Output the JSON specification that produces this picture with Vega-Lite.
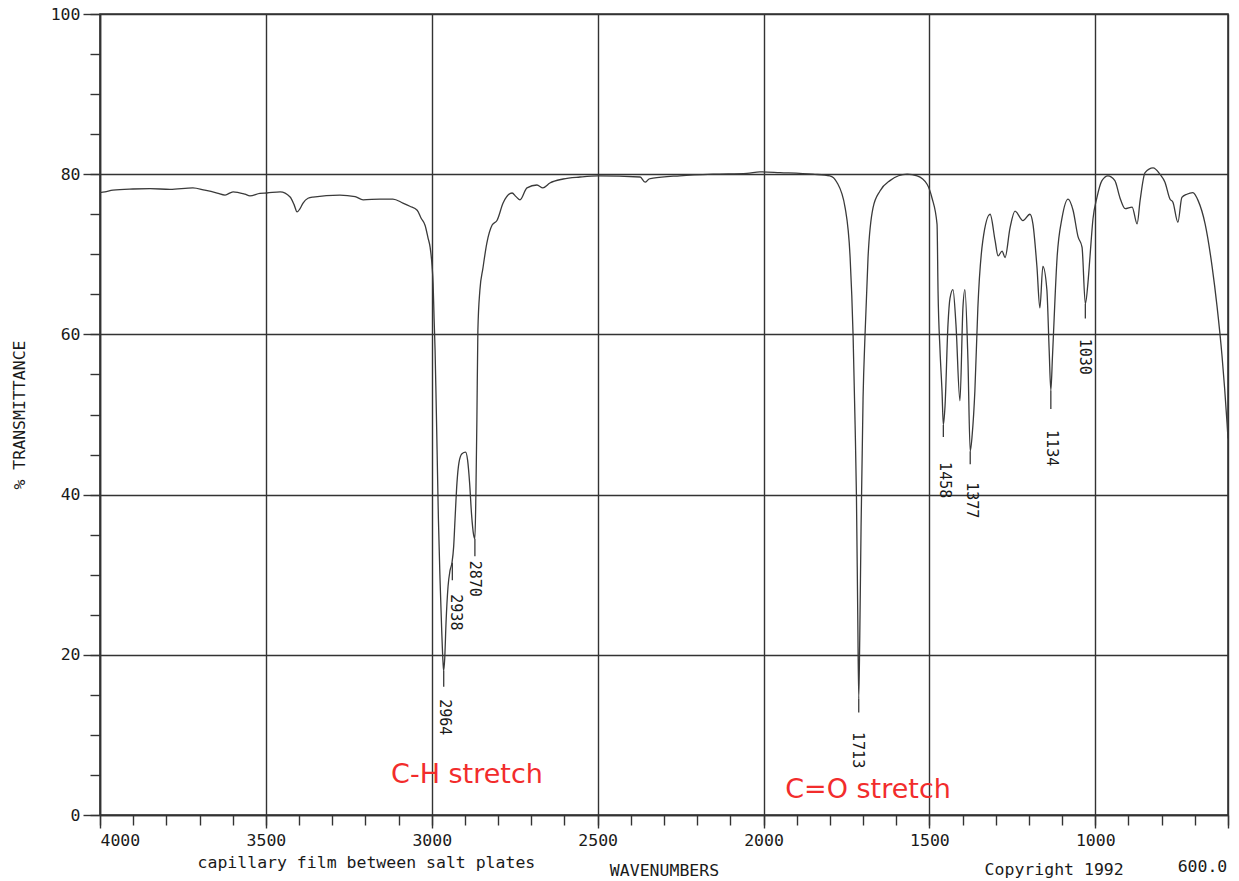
{
  "$schema": "https://vega.github.io/schema/vega-lite/v6.json",
  "width": 1128,
  "height": 801,
  "autosize": {"type": "none"},
  "padding": {"left": 100, "top": 14, "right": 11, "bottom": 66},
  "background": "white",
  "config": {
    "view": {"stroke": "#333", "strokeWidth": 1.6},
    "axis": {
      "labelFont": "DejaVu Sans Mono",
      "labelFontSize": 16.5,
      "labelColor": "#1a1a1a",
      "titleFont": "DejaVu Sans Mono",
      "titleFontSize": 16.5,
      "titleFontWeight": "normal",
      "titleColor": "#1a1a1a",
      "tickColor": "#333",
      "tickWidth": 1.4,
      "domainColor": "#333",
      "domainWidth": 1.6,
      "gridColor": "#333",
      "gridWidth": 1.4,
      "gridOpacity": 1
    }
  },
  "datasets": {
    "spectrum": [
      {"wn":4000,"t":77.7},{"wn":3985,"t":77.8},{"wn":3961,"t":78.0},{"wn":3901,"t":78.15},{"wn":3849,"t":78.2},{"wn":3789,"t":78.1},{"wn":3720,"t":78.3},{"wn":3684,"t":78.0},{"wn":3647,"t":77.65},{"wn":3623,"t":77.4},{"wn":3599,"t":77.8},{"wn":3563,"t":77.5},{"wn":3548,"t":77.3},{"wn":3518,"t":77.6},{"wn":3497,"t":77.65},{"wn":3457,"t":77.8},{"wn":3427,"t":77.15},{"wn":3415,"t":76.2},{"wn":3406,"t":75.3},{"wn":3397,"t":75.7},{"wn":3388,"t":76.4},{"wn":3373,"t":77.0},{"wn":3358,"t":77.15},{"wn":3277,"t":77.4},{"wn":3231,"t":77.2},{"wn":3207,"t":76.8},{"wn":3156,"t":76.9},{"wn":3117,"t":76.9},{"wn":3087,"t":76.4},{"wn":3066,"t":76.0},{"wn":3044,"t":75.5},{"wn":3032,"t":74.5},{"wn":3020,"t":73.6},{"wn":3011,"t":72.0},{"wn":3005,"t":70.9},{"wn":2999,"t":68.5},{"wn":2996,"t":66.4},{"wn":2993,"t":62},{"wn":2990,"t":58},{"wn":2987,"t":52},{"wn":2984,"t":45.6},{"wn":2980,"t":37},{"wn":2975,"t":29.3},{"wn":2970,"t":23},{"wn":2966,"t":19},{"wn":2964,"t":18},{"wn":2961,"t":19.5},{"wn":2957,"t":24},{"wn":2951,"t":28.5},{"wn":2945,"t":30.5},{"wn":2939,"t":31.5},{"wn":2934,"t":33.5},{"wn":2930,"t":36.8},{"wn":2924,"t":41.5},{"wn":2918,"t":44},{"wn":2909,"t":45.1},{"wn":2898,"t":45.3},{"wn":2892,"t":44.3},{"wn":2886,"t":41.5},{"wn":2880,"t":37.5},{"wn":2874,"t":35},{"wn":2870,"t":34.5},{"wn":2867,"t":40},{"wn":2864,"t":49.3},{"wn":2861,"t":60.5},{"wn":2855,"t":65.5},{"wn":2846,"t":68.2},{"wn":2834,"t":71.4},{"wn":2818,"t":73.65},{"wn":2803,"t":74.25},{"wn":2785,"t":76.4},{"wn":2758,"t":77.65},{"wn":2746,"t":77.2},{"wn":2734,"t":76.8},{"wn":2713,"t":78.3},{"wn":2683,"t":78.65},{"wn":2665,"t":78.3},{"wn":2644,"t":78.9},{"wn":2604,"t":79.4},{"wn":2553,"t":79.65},{"wn":2499,"t":79.8},{"wn":2372,"t":79.65},{"wn":2357,"t":79.0},{"wn":2345,"t":79.4},{"wn":2333,"t":79.5},{"wn":2252,"t":79.8},{"wn":2152,"t":80.0},{"wn":2050,"t":80.1},{"wn":2011,"t":80.3},{"wn":1950,"t":80.2},{"wn":1851,"t":80.0},{"wn":1800,"t":79.8},{"wn":1779,"t":79},{"wn":1754,"t":75.8},{"wn":1739,"t":69.6},{"wn":1730,"t":59.8},{"wn":1724,"t":48.75},{"wn":1720,"t":40},{"wn":1716,"t":25},{"wn":1713,"t":14.5},{"wn":1710,"t":22},{"wn":1706,"t":36},{"wn":1700,"t":52},{"wn":1694,"t":60},{"wn":1685,"t":69.6},{"wn":1670,"t":75.8},{"wn":1649,"t":77.9},{"wn":1619,"t":79.2},{"wn":1567,"t":80.0},{"wn":1537,"t":79.8},{"wn":1507,"t":78.75},{"wn":1492,"t":77},{"wn":1477,"t":73.75},{"wn":1474,"t":65.4},{"wn":1468,"t":58},{"wn":1462,"t":52.9},{"wn":1458,"t":48.7},{"wn":1453,"t":51},{"wn":1444,"t":61.25},{"wn":1438,"t":64.5},{"wn":1429,"t":65.6},{"wn":1420,"t":61.25},{"wn":1408,"t":51.7},{"wn":1399,"t":63.3},{"wn":1393,"t":65.6},{"wn":1384,"t":57},{"wn":1377,"t":45.4},{"wn":1371,"t":47.5},{"wn":1363,"t":52.9},{"wn":1354,"t":63.3},{"wn":1339,"t":71.7},{"wn":1317,"t":75},{"wn":1302,"t":71.7},{"wn":1293,"t":69.8},{"wn":1281,"t":70.4},{"wn":1272,"t":69.6},{"wn":1257,"t":73.3},{"wn":1242,"t":75.4},{"wn":1218,"t":74.2},{"wn":1197,"t":75},{"wn":1188,"t":73.8},{"wn":1176,"t":68.5},{"wn":1167,"t":63.3},{"wn":1158,"t":68.5},{"wn":1146,"t":65.6},{"wn":1139,"t":58},{"wn":1134,"t":53},{"wn":1129,"t":57.3},{"wn":1115,"t":69.7},{"wn":1100,"t":74.6},{"wn":1082,"t":76.9},{"wn":1067,"t":75.5},{"wn":1052,"t":72.2},{"wn":1040,"t":70.9},{"wn":1030,"t":63.8},{"wn":1022,"t":66.5},{"wn":1016,"t":69.7},{"wn":1007,"t":74.4},{"wn":995,"t":77.1},{"wn":980,"t":79.2},{"wn":962,"t":79.8},{"wn":941,"t":79.2},{"wn":926,"t":77.1},{"wn":910,"t":75.7},{"wn":889,"t":75.9},{"wn":874,"t":73.8},{"wn":865,"t":76.7},{"wn":850,"t":80.2},{"wn":826,"t":80.8},{"wn":805,"t":80},{"wn":790,"t":79},{"wn":775,"t":76.9},{"wn":766,"t":76.5},{"wn":751,"t":74},{"wn":739,"t":77.1},{"wn":724,"t":77.5},{"wn":706,"t":77.7},{"wn":690,"t":76.7},{"wn":669,"t":73.8},{"wn":648,"t":68.5},{"wn":633,"t":63.5},{"wn":618,"t":57.3},{"wn":603,"t":49},{"wn":600,"t":47}
    ],
    "leaders": [
      {"wn":2964,"t1":18.0,"t2":16.0},
      {"wn":2938,"t1":31.5,"t2":29.3},
      {"wn":2870,"t1":34.5,"t2":32.3},
      {"wn":1713,"t1":14.5,"t2":12.8},
      {"wn":1458,"t1":48.7,"t2":47.2},
      {"wn":1377,"t1":45.4,"t2":43.8},
      {"wn":1134,"t1":53.0,"t2":50.7},
      {"wn":1030,"t1":63.8,"t2":62.0}
    ],
    "peaks": [
      {"label":"2964","wn":2960,"t":12.2},
      {"label":"2938","wn":2927,"t":25.3},
      {"label":"2870","wn":2870,"t":29.5},
      {"label":"1713","wn":1715,"t":8.1},
      {"label":"1458","wn":1453,"t":41.8},
      {"label":"1377","wn":1372,"t":39.3},
      {"label":"1134","wn":1130,"t":45.8},
      {"label":"1030","wn":1031,"t":57.2}
    ],
    "notes": [
      {"text":"C-H stretch","wn":2894,"t":5.0},
      {"text":"C=O stretch","wn":1685,"t":3.1}
    ],
    "footer": [
      {"text":"capillary film between salt plates","wn":3197,"t":-6.0},
      {"text":"Copyright 1992","wn":1124,"t":-6.9},
      {"text":"600.0","wn":677,"t":-6.5}
    ]
  },
  "layer": [
    {
      "data": {"name": "spectrum"},
      "mark": {"type": "line", "color": "#3a3a3a", "strokeWidth": 1.3, "interpolate": "monotone", "clip": true},
      "encoding": {
        "x": {
          "field": "wn", "type": "quantitative",
          "scale": {"domain": [600, 4000], "reverse": true, "nice": false, "zero": false},
          "axis": {
            "orient": "bottom",
            "values": [4000, 3500, 3000, 2500, 2000, 1500, 1000, 600],
            "format": "d",
            "labelExpr": "datum.value == 600 ? '' : datum.label",
            "labelFlush": true,
            "labelOverlap": false,
            "grid": true,
            "tickSize": 13,
            "labelPadding": 4,
            "title": "WAVENUMBERS",
            "titlePadding": 14
          }
        },
        "y": {
          "field": "t", "type": "quantitative",
          "scale": {"domain": [0, 100], "nice": false, "zero": false},
          "axis": {
            "orient": "left",
            "values": [0, 20, 40, 60, 80, 100],
            "grid": true,
            "tickSize": 17,
            "labelPadding": 3,
            "labelBaseline": "middle",
            "title": "% TRANSMITTANCE",
            "titlePadding": 23
          }
        }
      }
    },
    {
      "data": {"name": "leaders"},
      "mark": {"type": "rule", "color": "#3a3a3a", "strokeWidth": 1.3},
      "encoding": {
        "x": {
          "field": "wn", "type": "quantitative",
          "scale": {"domain": [600, 4000], "reverse": true, "nice": false, "zero": false},
          "axis": {
            "orient": "bottom",
            "values": [4000,3900,3800,3700,3600,3500,3400,3300,3200,3100,3000,2900,2800,2700,2600,2500,2400,2300,2200,2100,2000,1900,1800,1700,1600,1500,1400,1300,1200,1100,1000,900,800,700,600],
            "labels": false,
            "grid": false,
            "domain": false,
            "tickSize": 10,
            "title": null
          }
        },
        "y": {
          "field": "t1", "type": "quantitative",
          "scale": {"domain": [0, 100], "nice": false, "zero": false},
          "axis": {
            "orient": "left",
            "values": [0,5,10,15,20,25,30,35,40,45,50,55,60,65,70,75,80,85,90,95,100],
            "labels": false,
            "grid": false,
            "domain": false,
            "tickSize": 10,
            "title": null
          }
        },
        "y2": {"field": "t2"}
      }
    },
    {
      "data": {"name": "peaks"},
      "mark": {"type": "text", "angle": 90, "font": "DejaVu Sans Mono", "fontSize": 15, "align": "center", "baseline": "middle", "color": "#1a1a1a"},
      "encoding": {
        "x": {"field": "wn", "type": "quantitative", "scale": {"domain": [600, 4000], "reverse": true, "nice": false, "zero": false}, "axis": null},
        "y": {"field": "t", "type": "quantitative", "scale": {"domain": [0, 100], "nice": false, "zero": false}, "axis": null},
        "text": {"field": "label"}
      }
    },
    {
      "data": {"name": "notes"},
      "mark": {"type": "text", "font": "DejaVu Sans", "fontSize": 27, "align": "center", "baseline": "middle", "color": "#f22c2c"},
      "encoding": {
        "x": {"field": "wn", "type": "quantitative", "scale": {"domain": [600, 4000], "reverse": true, "nice": false, "zero": false}, "axis": null},
        "y": {"field": "t", "type": "quantitative", "scale": {"domain": [0, 100], "nice": false, "zero": false}, "axis": null},
        "text": {"field": "text"}
      }
    },
    {
      "data": {"name": "footer"},
      "mark": {"type": "text", "font": "DejaVu Sans Mono", "fontSize": 16.5, "align": "center", "baseline": "middle", "color": "#1a1a1a"},
      "encoding": {
        "x": {"field": "wn", "type": "quantitative", "scale": {"domain": [600, 4000], "reverse": true, "nice": false, "zero": false}, "axis": null},
        "y": {"field": "t", "type": "quantitative", "scale": {"domain": [0, 100], "nice": false, "zero": false}, "axis": null},
        "text": {"field": "text"}
      }
    }
  ],
  "resolve": {"axis": {"x": "independent", "y": "independent"}}
}
